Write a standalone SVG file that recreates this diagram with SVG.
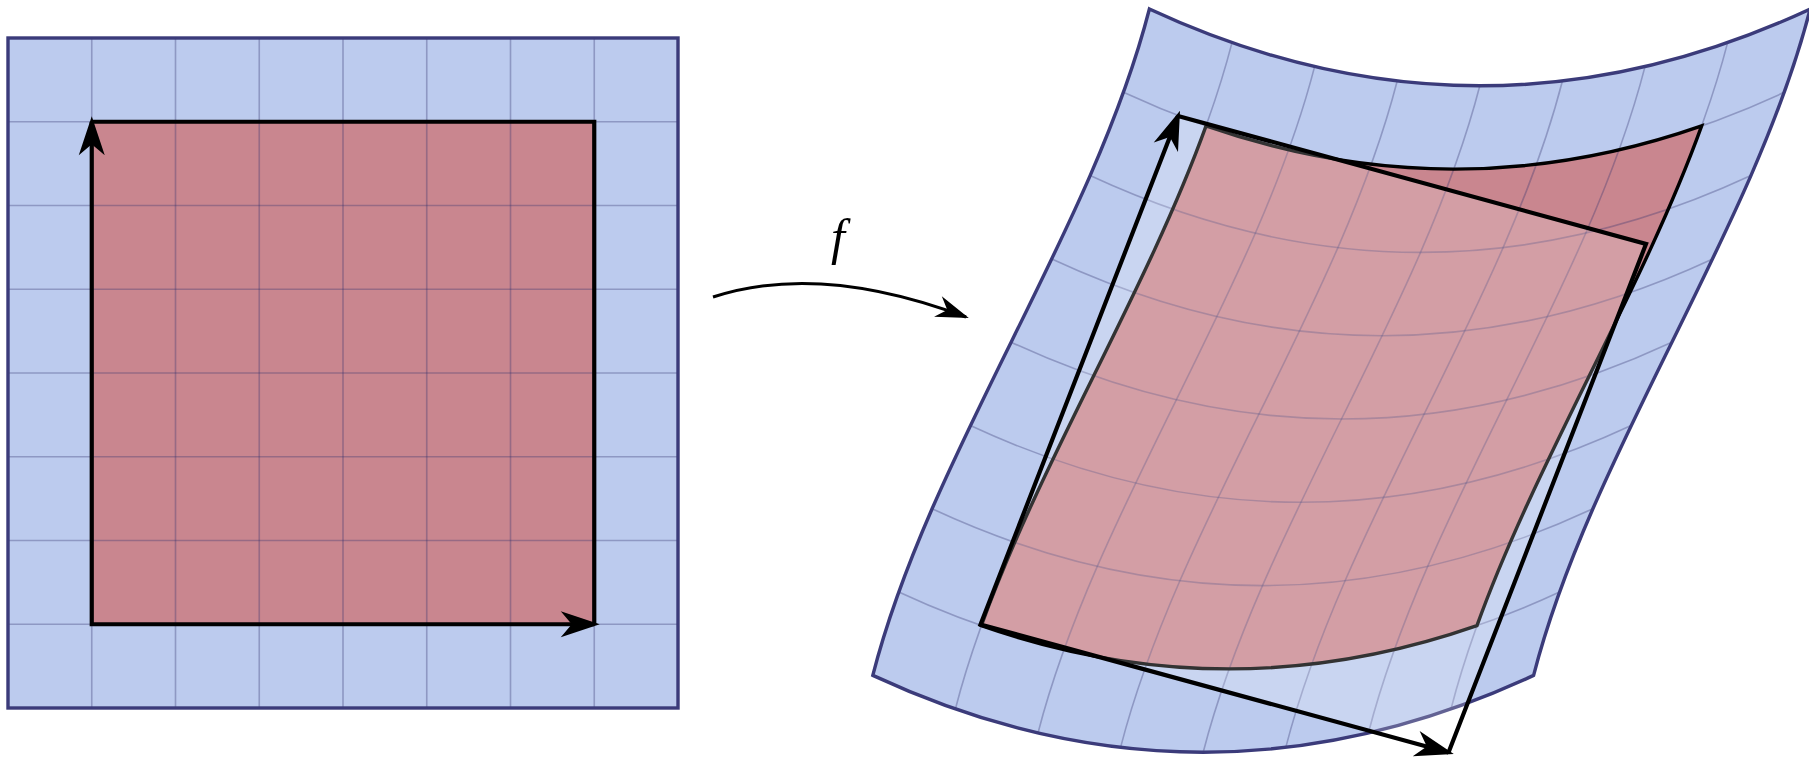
<svg xmlns="http://www.w3.org/2000/svg" xmlns:xlink="http://www.w3.org/1999/xlink" width="1809" height="759" viewBox="0 0 1809 759">
<style>
.blue{fill:#bccbee;}
.red{fill:#c9868f;}
.border{fill:none;stroke:#3b3b7a;stroke-width:3.4;stroke-linejoin:miter;}
.grid{fill:none;stroke:#32326e;stroke-opacity:0.33;stroke-width:1.6;}
.redline{fill:none;stroke:#000;stroke-width:3.4;stroke-linejoin:miter;}
.vec{fill:none;stroke:#000;stroke-width:4.2;stroke-linejoin:miter;}
.overlay{fill:#fff;fill-opacity:0.2;stroke:none;}
.map{fill:none;stroke:#000;stroke-width:3;}
.lbl{font-family:"Liberation Serif","DejaVu Serif",serif;font-style:italic;font-size:50px;fill:#000;}
</style>
<defs>
<marker id="ah" markerUnits="userSpaceOnUse" orient="auto-start-reverse" overflow="visible" refX="-5.5" refY="0" markerWidth="1" markerHeight="1">
<path d="M0,0 L-39,-13 L-28,0 L-39,13 Z" fill="#000"/>
</marker>
<marker id="ahs" markerUnits="userSpaceOnUse" orient="auto" overflow="visible" refX="-3" refY="0" markerWidth="1" markerHeight="1">
<path d="M0,0 L-33,-11 L-23,0 L-33,11 Z" fill="#000"/>
</marker>
<path id="tl" d="M-330.4,-76.8 Q0,76.8 330.4,-76.8"/>
<path id="sl" d="M-138.3,333.2 C-81.18,111.07 81.18,-111.07 138.3,-333.2"/>
</defs>

<g id="domain">
<rect class="blue" x="8" y="38" width="670" height="670"/>
<rect class="red" x="91.75" y="121.75" width="502.5" height="502.5"/>
<g class="grid">
<path d="M91.75,38V708M175.5,38V708M259.25,38V708M343,38V708M426.75,38V708M510.5,38V708M594.25,38V708"/>
<path d="M8,121.75H678M8,205.5H678M8,289.25H678M8,373H678M8,456.75H678M8,540.5H678M8,624.25H678"/>
</g>
<rect class="border" x="8" y="38" width="670" height="670"/>
<path class="vec" d="M594.25,624.25 L91.75,624.25 L91.75,121.75" marker-start="url(#ah)" marker-end="url(#ah)"/>
<path class="vec" d="M91.75,121.75 L594.25,121.75 L594.25,624.25"/>
</g>

<g id="image">
<path class="blue" d="M1149.4,9 Q1479.8,162.6 1810.2,9 C1753.08,231.13 1590.72,453.27 1533.6,675.4 Q1203.2,829 872.8,675.4 C929.92,453.27 1092.28,231.13 1149.4,9 Z"/>
<path id="redregion" class="red" d="M1206.05,125.9 Q1453.85,212.3 1701.65,125.9 C1641.55,292.5 1537.05,459.1 1476.95,625.7 Q1229.15,712.1 981.35,625.7 C1041.45,459.1 1145.95,292.5 1206.05,125.9 Z"/>
<g class="grid">
<use href="#tl" x="1453.85" y="169.1"/>
<use href="#tl" x="1420.51" y="252.4"/>
<use href="#tl" x="1382.24" y="335.7"/>
<use href="#tl" x="1341.5" y="419"/>
<use href="#tl" x="1300.76" y="502.3"/>
<use href="#tl" x="1262.49" y="585.6"/>
<use href="#tl" x="1229.15" y="668.9"/>
<use href="#sl" x="1093.7" y="375.8"/>
<use href="#sl" x="1176.3" y="399.8"/>
<use href="#sl" x="1258.9" y="414.2"/>
<use href="#sl" x="1341.5" y="419"/>
<use href="#sl" x="1424.1" y="414.2"/>
<use href="#sl" x="1506.7" y="399.8"/>
<use href="#sl" x="1589.3" y="375.8"/>
</g>
<path class="redline" d="M1206.05,125.9 Q1453.85,212.3 1701.65,125.9 C1641.55,292.5 1537.05,459.1 1476.95,625.7 Q1229.15,712.1 981.35,625.7 C1041.45,459.1 1145.95,292.5 1206.05,125.9 Z"/>
<path class="border" d="M1149.4,9 Q1479.8,162.6 1810.2,9 C1753.08,231.13 1590.72,453.27 1533.6,675.4 Q1203.2,829 872.8,675.4 C929.92,453.27 1092.28,231.13 1149.4,9 Z"/>
</g>

<g id="linearization">
<polygon class="overlay" points="980.5,624.5 1178,116 1646,244 1448.5,752.5"/>
<path class="vec" d="M1448.5,752.5 L980.5,624.5 L1178,116" marker-start="url(#ah)" marker-end="url(#ah)"/>
<path class="vec" d="M1178,116 L1646,244 L1448.5,752.5"/>
</g>

<g id="connectors">
<path class="map" d="M713,297 Q820,262 966,317" marker-end="url(#ahs)"/>
</g>
<g id="label-f">
<text class="lbl" x="838" y="254" text-anchor="middle">f</text>
</g>
</svg>
